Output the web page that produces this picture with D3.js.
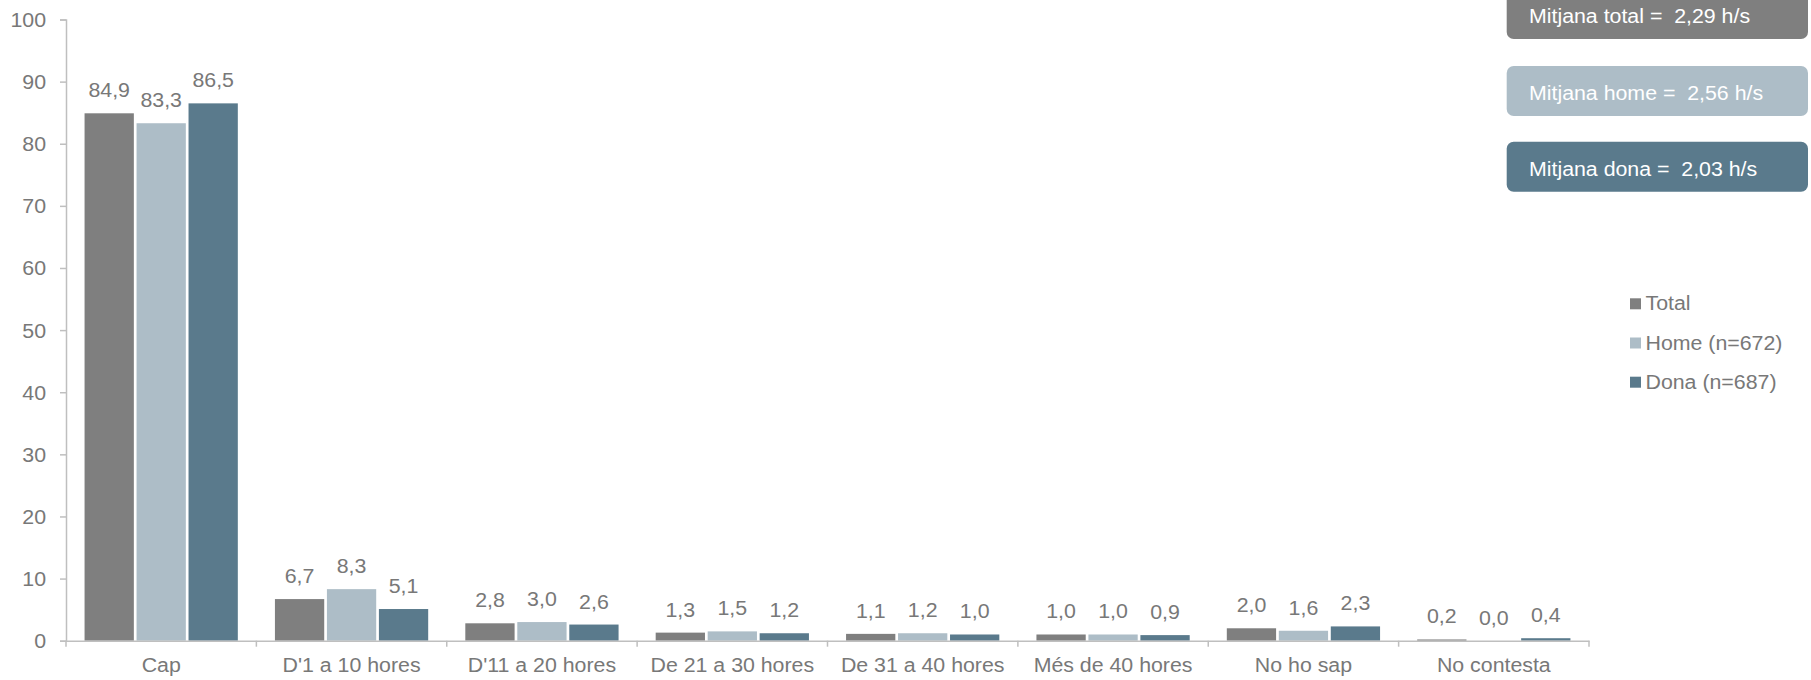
<!DOCTYPE html>
<html>
<head>
<meta charset="utf-8">
<script src="https://cdn.jsdelivr.net/npm/d3@7/dist/d3.min.js"></script>
<style>
  html, body { margin: 0; padding: 0; background: #fff; }
  svg { display: block; font-family: "Liberation Sans", Arial, sans-serif; }
</style>
</head>
<body>
<svg id="chart" width="1811" height="680"></svg>
<script>
const categories = ["Cap", "D'1 a 10 hores", "D'11 a 20 hores", "De 21 a 30 hores", "De 31 a 40 hores", "Més de 40 hores", "No ho sap", "No contesta"];
const seriesNames = ["Total", "Home (n=672)", "Dona (n=687)"];
const totalValues = [84.9, 6.7, 2.8, 1.3, 1.1, 1.0, 2.0, 0.2];
const homeValues  = [83.3, 8.3, 3.0, 1.5, 1.2, 1.0, 1.6, 0.0];
const donaValues  = [86.5, 5.1, 2.6, 1.2, 1.0, 0.9, 2.3, 0.4];
const yTicks = [0, 10, 20, 30, 40, 50, 60, 70, 80, 90, 100];
const meanLabels = ["Mitjana total =  2,29 h/s", "Mitjana home =  2,56 h/s", "Mitjana dona =  2,03 h/s"];
const colors = ["#7f7f7f", "#adbdc7", "#5a7a8c"];

const allSeries = [totalValues, homeValues, donaValues];
const svg = d3.select("#chart");
const textColor = "#787878";
const axisColor = "#bfbfbf";
const fs = "19.4px";
const SX = 1.1;

// place text at (x,y) with horizontal stretch
function stretchText(sel, x, y) {
  sel.attr("x", 0).attr("y", 0).attr("dy", null)
    .attr("transform", `translate(${x},${y}) scale(${SX},1)`);
}

const x0 = d3.scaleBand().domain(categories).range([66, 1589]).padding(0);
const x1 = d3.scaleBand().domain(d3.range(3)).range([0, x0.bandwidth()]).paddingInner(0.052).paddingOuter(0.357);
const y = d3.scaleLinear().domain([0, 100]).range([640.7, 19.5]);

// Y axis
const yAxis = svg.append("g").attr("transform", "translate(66,0)")
  .call(d3.axisLeft(y).tickValues(yTicks).tickSize(6).tickPadding(14).tickFormat(d3.format("d")));
yAxis.select(".domain").attr("stroke", axisColor).attr("stroke-width", 1.5);
yAxis.selectAll(".tick line").attr("stroke", axisColor).attr("stroke-width", 1.5);
yAxis.selectAll(".tick text").attr("fill", textColor).style("font-size", fs)
  .style("font-family", "Liberation Sans, Arial, sans-serif")
  .each(function() { stretchText(d3.select(this), -20, 7); });

// Bars
const groups = svg.append("g").selectAll("g").data(categories).join("g")
  .attr("transform", d => `translate(${x0(d)},0)`);
groups.each(function(cat, ci) {
  const g = d3.select(this);
  allSeries.forEach((vals, si) => {
    const v = vals[ci];
    g.append("rect")
      .attr("x", x1(si)).attr("width", x1.bandwidth())
      .attr("y", y(v)).attr("height", y(0) - y(v))
      .attr("fill", colors[si]);
    g.append("text")
      .attr("text-anchor", "middle")
      .attr("fill", textColor).style("font-size", fs)
      .text(d3.format(".1f")(v).replace(".", ","))
      .call(s => stretchText(s, x1(si) + x1.bandwidth() / 2, y(v) - 16));
  });
});

// X axis
const xAxis = svg.append("g").attr("transform", `translate(0,${y(0)})`)
  .call(d3.axisBottom(x0).tickSize(0).tickPadding(0));
xAxis.select(".domain").attr("stroke", axisColor).attr("stroke-width", 1.5);
xAxis.selectAll(".tick text").attr("fill", textColor).style("font-size", fs)
  .style("font-family", "Liberation Sans, Arial, sans-serif")
  .each(function() { stretchText(d3.select(this), 0, 672 - y(0)); });
// boundary tick marks
const bounds = categories.map(c => x0(c)).concat([x0(categories[categories.length - 1]) + x0.bandwidth()]);
xAxis.selectAll("line.bt").data(bounds).join("line").attr("class", "bt")
  .attr("x1", d => d).attr("x2", d => d).attr("y1", 0).attr("y2", 6)
  .attr("stroke", axisColor).attr("stroke-width", 1.5);

// Mean boxes
const boxTops = [-11, 66, 141.7];
const mg = svg.append("g");
meanLabels.forEach((t, i) => {
  mg.append("rect").attr("x", 1506.7).attr("y", boxTops[i]).attr("width", 301.3).attr("height", 50)
    .attr("rx", 7).attr("fill", colors[i]);
  mg.append("text")
    .attr("fill", "#ffffff").style("font-size", fs).style("white-space", "pre")
    .attr("xml:space", "preserve").text(t)
    .call(s => stretchText(s, 1529, boxTops[i] + 34));
});

// Legend
const lg = svg.append("g").attr("transform", "translate(1630,298.3)");
seriesNames.forEach((n, i) => {
  lg.append("rect").attr("x", 0).attr("y", i * 39.2).attr("width", 11).attr("height", 11).attr("fill", colors[i]);
  lg.append("text").attr("fill", textColor).style("font-size", fs).text(n)
    .call(s => stretchText(s, 15.5, i * 39.2 + 12));
});
</script>
</body>
</html>
